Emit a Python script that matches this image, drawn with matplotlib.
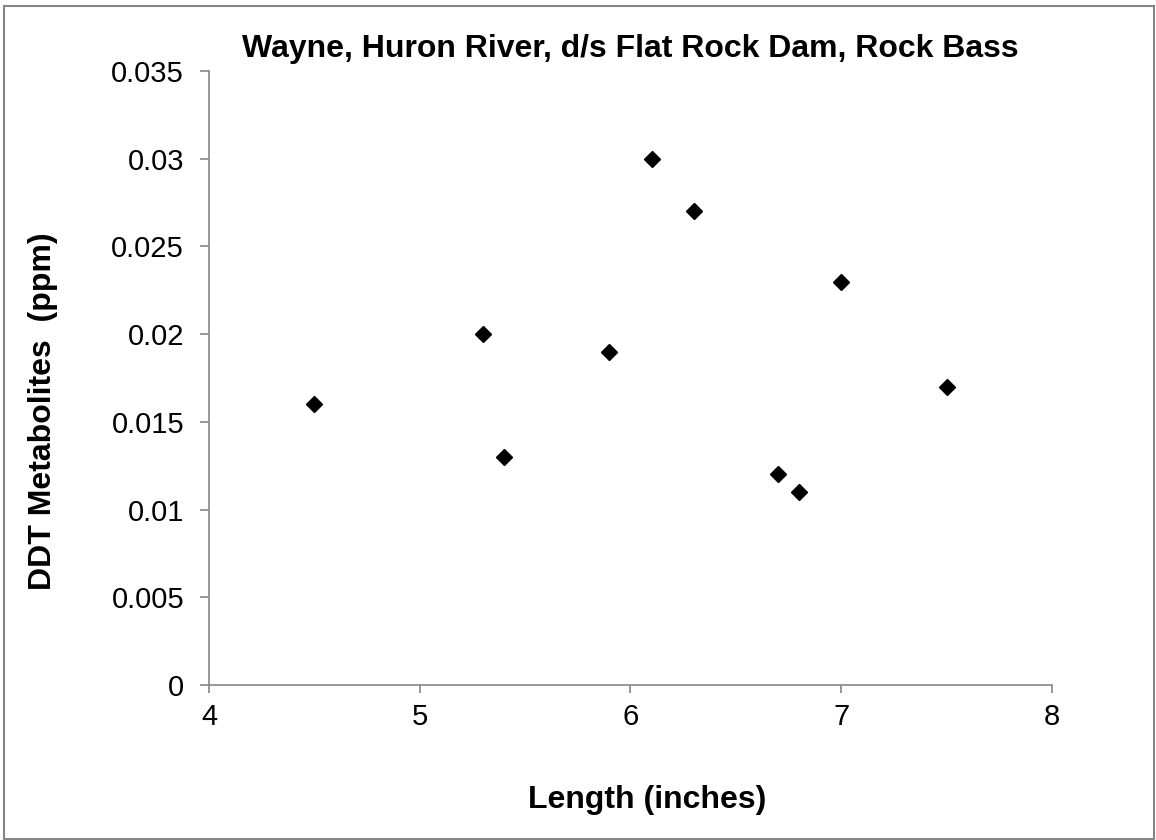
import matplotlib.pyplot as plt
from matplotlib.patches import Rectangle

plt.rcParams['font.family'] = ['Liberation Sans', 'DejaVu Sans']

length = [4.5, 5.3, 5.4, 5.9, 6.1, 6.3, 6.7, 6.8, 7.0, 7.5]
ddt = [0.016, 0.020, 0.013, 0.019, 0.030, 0.027, 0.012, 0.011, 0.023, 0.017]
xticks = [4, 5, 6, 7, 8]
yticks = [0, 0.005, 0.01, 0.015, 0.02, 0.025, 0.03, 0.035]
ytick_labels = ['0', '0.005', '0.01', '0.015', '0.02', '0.025', '0.03', '0.035']

fig = plt.figure(figsize=(11.56, 8.4), dpi=100)
ax = fig.add_axes([0.1808, 0.1845, 0.7292, 0.731])

ax.plot(length, ddt, linestyle='none', marker='D', markersize=8, color='black')

ax.set_xlim(4, 8)
ax.set_ylim(0, 0.035)
ax.set_xticks(xticks)
ax.set_xticklabels([str(t) for t in xticks])
ax.set_yticks(yticks)
ax.set_yticklabels(ytick_labels)

for s in ['top', 'right']:
    ax.spines[s].set_visible(False)
for s in ['left', 'bottom']:
    ax.spines[s].set_color('#868686')
    ax.spines[s].set_linewidth(1.2)
ax.tick_params(axis='both', direction='out', color='#868686', width=1.2,
               labelsize=21)
ax.tick_params(axis='y', length=6.5, pad=11.5)
ax.tick_params(axis='x', length=5.8, pad=7)

fig.text(0.545, 0.932, 'Wayne, Huron River, d/s Flat Rock Dam, Rock Bass',
         fontsize=23, fontweight='bold', ha='center', va='baseline')
fig.text(0.560, 0.038, 'Length (inches)', fontsize=23, fontweight='bold',
         ha='center', va='baseline')
fig.text(0.037, 0.511, 'DDT Metabolites  (ppm)', fontsize=23, fontweight='bold',
         ha='center', va='center', rotation=90)

# outer frame
fig.patches.append(Rectangle((0.0035, 0.0012), 0.9948, 0.9917, transform=fig.transFigure,
                             fill=False, edgecolor='#868686', linewidth=1.5))

fig.savefig('out.png', dpi=100)
